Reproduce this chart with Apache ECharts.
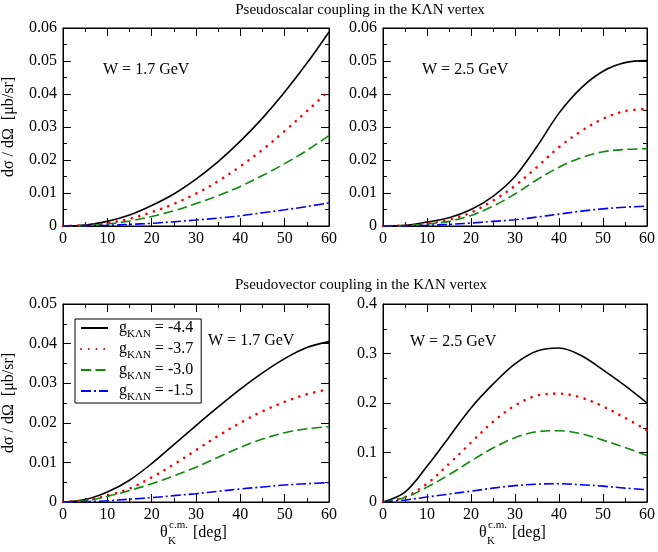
<!DOCTYPE html>
<html><head><meta charset="utf-8">
<script src="https://cdn.jsdelivr.net/npm/echarts@6/dist/echarts.min.js"></script>
<style>html,body{margin:0;padding:0;background:#fff}#c{width:658px;height:552px}</style>
</head><body><div id="c"></div>
<script>
// ---- data ----
const theta = [0,5,10,15,20,25,30,35,40,45,50,55,60];
const couplings = ['-4.4','-3.7','-3.0','-1.5'];
// Pseudoscalar, W = 1.7 GeV
const ps17_g44 = [0,0.0003,0.0014,0.0033,0.0062,0.0097,0.0142,0.0195,0.0257,0.0327,0.0406,0.0493,0.0588];
const ps17_g37 = [0,0.0002,0.0009,0.0022,0.0042,0.0067,0.0098,0.0136,0.0181,0.0231,0.0288,0.0348,0.0410];
const ps17_g30 = [0,0.0001,0.0006,0.0015,0.0029,0.0046,0.0068,0.0092,0.0120,0.0153,0.0189,0.0229,0.0274];
const ps17_g15 = [0,0.0001,0.0002,0.0005,0.0008,0.0013,0.0018,0.0024,0.0031,0.0040,0.0049,0.0059,0.0070];
// Pseudoscalar, W = 2.5 GeV
const ps25_g44 = [0,0.0002,0.0012,0.0025,0.0050,0.0090,0.0150,0.0241,0.0342,0.0418,0.0469,0.0495,0.0501];
const ps25_g37 = [0,0.0001,0.0008,0.0019,0.0041,0.0077,0.0122,0.0179,0.0239,0.0287,0.0325,0.0348,0.0355];
const ps25_g30 = [0,0.0001,0.0006,0.0014,0.0032,0.0060,0.0097,0.0140,0.0178,0.0207,0.0225,0.0232,0.0234];
const ps25_g15 = [0,0.00003,0.0002,0.0005,0.0009,0.0014,0.0019,0.0027,0.0036,0.0045,0.0052,0.0057,0.0060];
// Pseudovector, W = 1.7 GeV
const pv17_g44 = [0,0.0006,0.0025,0.0055,0.0097,0.0145,0.0193,0.0240,0.0285,0.0326,0.0362,0.0390,0.0405];
const pv17_g37 = [0,0.0004,0.0016,0.0034,0.0062,0.0095,0.0131,0.0167,0.0200,0.0229,0.0253,0.0272,0.0285];
const pv17_g30 = [0,0.0003,0.0014,0.0029,0.0046,0.0066,0.0088,0.0113,0.0138,0.0159,0.0175,0.0185,0.0190];
const pv17_g15 = [0,0.0001,0.0003,0.0007,0.0011,0.0016,0.0021,0.0027,0.0033,0.0038,0.0043,0.0046,0.0049];
// Pseudovector, W = 2.5 GeV
const pv25_g44 = [0,0.020,0.072,0.131,0.190,0.238,0.279,0.305,0.311,0.296,0.267,0.235,0.200];
const pv25_g37 = [0,0.010,0.037,0.077,0.120,0.162,0.195,0.215,0.219,0.211,0.193,0.170,0.145];
const pv25_g30 = [0,0.009,0.030,0.055,0.083,0.109,0.130,0.142,0.144,0.138,0.125,0.110,0.094];
const pv25_g15 = [0,0.004,0.010,0.016,0.022,0.028,0.033,0.036,0.037,0.035,0.032,0.028,0.025];

// tick labels
const xTicks = [0,10,20,30,40,50,60];
const yTicksPS = [0,0.01,0.02,0.03,0.04,0.05,0.06];
const yTicksPV17 = [0,0.01,0.02,0.03,0.04,0.05];
const yTicksPV25 = [0,0.1,0.2,0.3,0.4];

const sectionTitles = ['Pseudoscalar coupling in the K\u039BN vertex','Pseudovector coupling in the K\u039BN vertex'];
const energyLabels = ['W = 1.7 GeV','W = 2.5 GeV','W = 1.7 GeV','W = 2.5 GeV'];
const yName = 'd\u03C3 / d\u03A9  [\u03BCb/sr]';

// ---- chart ----
const FONT = 'Liberation Serif';
const panels = [
  {grid:{left:63,top:28,width:266,height:198}, y:yTicksPS, data:[ps17_g44,ps17_g37,ps17_g30,ps17_g15], yname:true},
  {grid:{left:383,top:28,width:268,height:198}, y:yTicksPS, data:[ps25_g44,ps25_g37,ps25_g30,ps25_g15], yname:false},
  {grid:{left:63,top:304,width:266,height:198}, y:yTicksPV17, data:[pv17_g44,pv17_g37,pv17_g30,pv17_g15], yname:true},
  {grid:{left:383,top:304,width:268,height:198}, y:yTicksPV25, data:[pv25_g44,pv25_g37,pv25_g30,pv25_g15], yname:false}
];
const lineStyles = [
  {color:'#000000', width:1.6, type:'solid'},
  {color:'#ff0000', width:2.6, type:[0.1,7.6], cap:'round'},
  {color:'#0a8a0a', width:1.6, type:[10,4.5]},
  {color:'#0000ff', width:1.6, type:[10,3,2,3]}
];

function buildOption(v){
  const tickLine = v.unbatched ? {color:'#000', width:1, type:[40,0]} : {color:'#000', width:1};
  function ax(extra, labelled){
    return Object.assign({type:'value',
      axisLine:{show:true, onZero:false, lineStyle:{color:'#000', width:1}},
      axisTick:{show:true, inside:true, length:8, lineStyle:Object.assign({}, tickLine)},
      minorTick:{show:true, splitNumber:2, length:4, lineStyle:Object.assign({}, tickLine)},
      splitLine:{show:false},
      axisLabel: labelled ? {show:true, color:'#000', fontFamily:FONT, fontSize:16, margin:6} : {show:false}
    }, extra);
  }
  const grids=[], xAxes=[], yAxes=[], series=[];
  panels.forEach((p,i)=>{
    grids.push(Object.assign({show:true, borderColor:'#000', borderWidth:1, backgroundColor:'transparent'}, p.grid));
    const xr = {gridIndex:i, min:xTicks[0], max:xTicks[xTicks.length-1], interval:xTicks[1]-xTicks[0]};
    const yr = {gridIndex:i, min:p.y[0], max:p.y[p.y.length-1], interval:+(p.y[1]-p.y[0]).toFixed(6)};
    const xIdx = xAxes.length, yIdx = yAxes.length;
    const xb = ax(Object.assign({position:'bottom'}, xr), true);
    xb.axisLabel.margin = 5;
    xAxes.push(xb);
    xAxes.push(ax(Object.assign({position:'top'}, xr), false));
    const yl = ax(Object.assign({position:'left'}, yr), true);
    if (p.yname) Object.assign(yl, {name:yName, nameLocation:'middle', nameGap:46,
      nameTextStyle:{color:'#000', fontFamily:FONT, fontSize:16}});
    yAxes.push(yl);
    yAxes.push(ax(Object.assign({position:'right'}, yr), false));
    p.data.forEach((arr,k)=>{
      series.push({type:'line', name:couplings[k], xAxisIndex:xIdx, yAxisIndex:yIdx,
        data: theta.map((t,j)=>[t,arr[j]]), smooth:0.35,
        symbol:'none', showSymbol:false,
        lineStyle: lineStyles[k], itemStyle:{color:lineStyles[k].color}});
    });
  });
  const txt = (text, x, y, size, align) => ({type:'text', x:x, y:y,
    style:{text:text, fill:'#000', font: size+'px "'+FONT+'"', textAlign:align||'left', textVerticalAlign:'middle'}});
  const graphics = [
    txt(sectionTitles[0], 360, 10, 15, 'center'), txt(sectionTitles[1], 361, 285, 15, 'center'),
    txt(energyLabels[0], 103, 70, 16), txt(energyLabels[1], 422, 70, 16),
    txt(energyLabels[2], 208, 341, 16), txt(energyLabels[3], 410, 342, 16)];
  [0, 319].forEach(dx=>{
    graphics.push(txt('\u03B8', 160+dx, 533, 16)); graphics.push(txt('c.m.', 169+dx, 525, 11));
    graphics.push(txt('K', 168+dx, 541, 11)); graphics.push(txt('[deg]', 193+dx, 533, 16));
  });
  return {animation:false, backgroundColor:'#fff',
    grid:grids, xAxis:xAxes, yAxis:yAxes, series:series, graphic:graphics,
    legend:{left:75, top:319, orient:'vertical', data:couplings,
      borderColor:'#000', borderWidth:1, padding:[1,8,0,5], itemGap:1, itemWidth:27, itemHeight:14,
      selectedMode:false, itemStyle:{opacity:0, borderWidth:0},
      formatter: n => '{g|g}{s|K\u039BN}{g| = ' + n + '}',
      textStyle:{color:'#000', fontFamily:FONT, fontSize:16, padding:[0,0,0,6],
        rich:{g:{fontFamily:FONT, fontSize:16, lineHeight:24, color:'#000'},
              s:{fontFamily:FONT, fontSize:11, lineHeight:12, verticalAlign:'bottom', color:'#000'}}}}};
}

// verify that the inner tick marks on the top edge of the first panel reach the canvas
function ticksVisible(ch){
  try { ch.getZr().refreshImmediately(); } catch(e) {}
  const cv = ch.getDom().querySelector('canvas');
  if (!cv) return false;
  let d;
  try { d = cv.getContext('2d').getImageData(100, 30, 16, 5).data; } catch(e) { return false; }
  for (let i=0;i<d.length;i+=4) if (d[i+3]>150 && d[i]<110) return true;
  return false;
}

const dom = document.getElementById('c');
let chart = echarts.init(dom, null, {renderer:'canvas'});
chart.setOption(buildOption({unbatched:false}), true);
if (!ticksVisible(chart)) {
  chart.setOption(buildOption({unbatched:true}), true);
  if (!ticksVisible(chart)) {
    chart.dispose();
    chart = echarts.init(dom, null, {renderer:'svg'});
    chart.setOption(buildOption({unbatched:false}), true);
  }
}
</script></body></html>
